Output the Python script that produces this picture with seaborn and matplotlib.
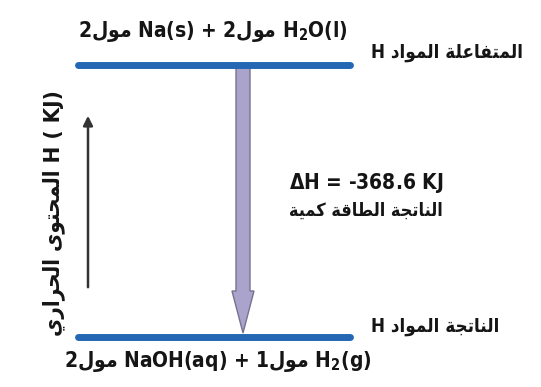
import numpy as np
import pandas as pd
import seaborn as sns
import matplotlib.pyplot as plt
from matplotlib.patches import FancyArrow

# --- data
states = ["reactants", "products"]
enthalpy = [0.0, -368.6]
delta_h = enthalpy[1] - enthalpy[0]
level_labels = ["H المواد المتفاعلة", "H المواد الناتجة"]
formulas = ["2مول Na(s) + 2مول H$_2$O(l)", "2مول NaOH(aq) + 1مول H$_2$(g)"]
yaxis_label = "المحتوى الحراري"
energy_label = "كمية الطاقة الناتجة"

# arabic presentation forms: iso, fin, ini, med (None -> letter doesn't join forward)
forms = {
    "ا": (0xFE8D, 0xFE8E, None, None),
    "ة": (0xFE93, 0xFE94, None, None),
    "ت": (0xFE95, 0xFE96, 0xFE97, 0xFE98),
    "ج": (0xFE9D, 0xFE9E, 0xFE9F, 0xFEA0),
    "ح": (0xFEA1, 0xFEA2, 0xFEA3, 0xFEA4),
    "د": (0xFEA9, 0xFEAA, None, None),
    "ر": (0xFEAD, 0xFEAE, None, None),
    "ط": (0xFEC1, 0xFEC2, 0xFEC3, 0xFEC4),
    "ع": (0xFEC9, 0xFECA, 0xFECB, 0xFECC),
    "ف": (0xFED1, 0xFED2, 0xFED3, 0xFED4),
    "ق": (0xFED5, 0xFED6, 0xFED7, 0xFED8),
    "ك": (0xFED9, 0xFEDA, 0xFEDB, 0xFEDC),
    "ل": (0xFEDD, 0xFEDE, 0xFEDF, 0xFEE0),
    "م": (0xFEE1, 0xFEE2, 0xFEE3, 0xFEE4),
    "ن": (0xFEE5, 0xFEE6, 0xFEE7, 0xFEE8),
    "و": (0xFEED, 0xFEEE, None, None),
    "ى": (0xFEEF, 0xFEF0, None, None),
    "ي": (0xFEF1, 0xFEF2, 0xFEF3, 0xFEF4),
}


def shape_word(w):
    out = []
    for i, c in enumerate(w):
        iso, fin, ini, med = forms[c]
        prev_joins = i > 0 and forms[w[i - 1]][2] is not None
        joins_next = i < len(w) - 1 and ini is not None
        if prev_joins and joins_next:
            out.append(chr(med))
        elif prev_joins:
            out.append(chr(fin))
        elif joins_next:
            out.append(chr(ini))
        else:
            out.append(chr(iso))
    return "".join(out[::-1])


def ar(text):
    # shape each arabic run, keep the word order as drawn in the picture
    res, run = [], ""
    for c in text:
        if c in forms:
            run += c
        else:
            if run:
                res.append(shape_word(run))
                run = ""
            res.append(c)
    if run:
        res.append(shape_word(run))
    return "".join(res)


def ar_rtl(text):
    return " ".join(ar(w) for w in text.split(" ")[::-1])


sns.set_theme(style="white")
plt.rcParams["font.family"] = ["Liberation Sans Narrow", "DejaVu Sans Condensed", "DejaVu Sans"]
plt.rcParams["font.weight"] = "bold"
plt.rcParams["font.stretch"] = "condensed"

W, H = 541, 387
fig = plt.figure(figsize=(W / 100, H / 100), dpi=100)
ax = fig.add_axes([0, 0, 1, 1])
ax.set_axis_off()

# pixel layout: top level at y=65 px, bottom level at y=337 px
top_px, bot_px = 65, 337
scale = (bot_px - top_px) / (enthalpy[0] - enthalpy[1])
ax.set_xlim(0, W)
ax.set_ylim(enthalpy[1] - (H - bot_px) / scale, enthalpy[0] + top_px / scale)

df = pd.DataFrame({
    "state": np.repeat(states, 2),
    "H": np.repeat(enthalpy, 2),
    "x": [78, 350] * 2,
})
blue = "#2467b3"
sns.lineplot(data=df, x="x", y="H", units="state", estimator=None,
             color=blue, lw=5, ax=ax, legend=False, zorder=3)

# big downward arrow
xa = 243
head_len = 42 / scale
ax.add_patch(FancyArrow(xa, enthalpy[0] - 2 / scale, 0, delta_h + 6 / scale,
                        width=14, head_width=22, head_length=head_len,
                        length_includes_head=True, fc="#aaa3cc", ec="#77728f",
                        lw=1, zorder=2))

# thin up arrow on left
ax.annotate("", xy=(88, enthalpy[0] - 48 / scale), xytext=(88, enthalpy[1] + 47 / scale),
            arrowprops=dict(arrowstyle="-|>", color="#333333", lw=1.8,
                            mutation_scale=14))

ink = "#151515"
ax.text(213, enthalpy[0] + 33 / scale, ar(formulas[0]), ha="center", va="center",
        fontsize=15, color=ink)
ax.text(218, enthalpy[1] - 24 / scale, ar(formulas[1]), ha="center", va="center",
        fontsize=15, color=ink)
ax.text(371, enthalpy[0] + 12 / scale, ar(level_labels[0]), ha="left", va="center",
        fontsize=13.5, color=ink)
ax.text(371, enthalpy[1] + 11 / scale, ar(level_labels[1]), ha="left", va="center",
        fontsize=13.5, color=ink)
ax.text(366, enthalpy[0] - 118 / scale, r"$\Delta$H = %.1f KJ" % delta_h, ha="center",
        va="center", fontsize=15, color=ink)
ax.text(366, enthalpy[0] - 146 / scale, ar(energy_label), ha="center", va="center",
        fontsize=13, color=ink)
ax.text(54, enthalpy[0] - 148 / scale, ar_rtl(yaxis_label) + " H ( KJ)",
        ha="center", va="center", rotation=90, fontsize=16, color=ink)

fig.savefig("out.png", dpi=100, facecolor="white")
